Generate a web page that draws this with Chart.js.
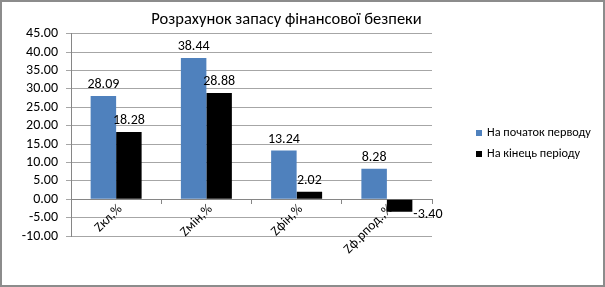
<!DOCTYPE html>
<html>
<head>
<meta charset="utf-8">
<script src="https://cdn.jsdelivr.net/npm/chart.js@4.4.0/dist/chart.umd.min.js"></script>
<style>
  html, body { margin: 0; padding: 0; background: #fff; }
  #wrap { width: 605px; height: 287px; position: relative; }
</style>
</head>
<body>
<div id="wrap"><canvas id="chart"></canvas></div>
<script>
const categories = ["Zкл,%", "Zмін,%", "Zфін,%", "Zф.рпод.,%"];
const seriesNames = ["На початок перводу", "На кінець періоду"];
const startValues = [28.09, 38.44, 13.24, 8.28];
const endValues = [18.28, 28.88, 2.02, -3.40];
const yMin = -10;
const yMax = 45;
const yStep = 5;

const FONT = "Carlito, Lato, sans-serif";
const gridGray = "#a6a6a6";
const axisGray = "#868686";

// frame round the whole chart
const framePlugin = {
  id: "frame",
  afterDraw(chart) {
    const ctx = chart.ctx;
    ctx.save();
    ctx.strokeStyle = "#8c8c8c";
    ctx.lineWidth = 2;
    ctx.strokeRect(1, 1, chart.width - 2, chart.height - 2);
    ctx.restore();
  }
};

// value labels over the bars
const valueLabels = {
  id: "valueLabels",
  afterDatasetsDraw(chart) {
    const ctx = chart.ctx;
    ctx.save();
    ctx.font = "14px " + FONT;
    ctx.fillStyle = "#000";
    chart.data.datasets.forEach((ds, i) => {
      chart.getDatasetMeta(i).data.forEach((bar, j) => {
        const v = ds.data[j];
        const txt = v.toFixed(2);
        if (v >= 0) {
          ctx.textAlign = "center";
          ctx.textBaseline = "alphabetic";
          ctx.fillText(txt, bar.x, bar.y - 8);
        } else {
          ctx.textAlign = "left";
          ctx.textBaseline = "middle";
          ctx.fillText(txt, bar.x + bar.width / 2 + 1, bar.y + 3);
        }
      });
    });
    ctx.restore();
  }
};

// legend at the right, drawn from the datasets
const sideLegend = {
  id: "sideLegend",
  afterDraw(chart) {
    const ctx = chart.ctx;
    ctx.save();
    ctx.font = "12.3px " + FONT;
    ctx.textAlign = "left";
    ctx.textBaseline = "middle";
    chart.data.datasets.forEach((ds, i) => {
      const y = 133 + i * 21;
      ctx.fillStyle = ds.backgroundColor;
      ctx.fillRect(476, y - 3, 6, 6);
      ctx.fillStyle = "#000";
      ctx.fillText(ds.label, 487, y);
    });
    ctx.restore();
  }
};

new Chart(document.getElementById("chart"), {
  type: "bar",
  data: {
    labels: categories,
    datasets: [
      { label: seriesNames[0], data: startValues, backgroundColor: "#4f81bd" },
      { label: seriesNames[1], data: endValues, backgroundColor: "#000000" }
    ]
  },
  options: {
    responsive: true,
    maintainAspectRatio: false,
    animation: false,
    categoryPercentage: 0.565,
    barPercentage: 1,
    layout: { padding: { left: 0, right: 32, top: 0, bottom: 51 } },
    plugins: {
      legend: { display: false },
      tooltip: { enabled: false },
      title: {
        display: true,
        text: "Розрахунок запасу фінансової безпеки",
        color: "#000",
        font: { family: FONT, size: 16.5, weight: "normal" },
        padding: { top: 10, bottom: 4 }
      }
    },
    scales: {
      x: {
        position: { y: 0 },
        grid: {
          display: true,
          drawOnChartArea: false,
          drawTicks: true,
          tickLength: 4,
          color: axisGray
        },
        border: { display: true, color: axisGray },
        ticks: {
          minRotation: 45,
          maxRotation: 45,
          padding: -2,
          labelOffset: 4,
          color: "#000",
          font: { family: FONT, size: 13.5 }
        }
      },
      y: {
        min: yMin,
        max: yMax,
        afterFit: (s) => { s.width = 71; },
        ticks: {
          stepSize: yStep,
          autoSkip: false,
          padding: 8,
          color: "#000",
          font: { family: FONT, size: 14 },
          callback: (v) => Number(v).toFixed(2)
        },
        grid: { color: gridGray, tickLength: 5, drawTicks: true },
        border: { color: axisGray }
      },
      // empty space between plot and legend
      gap: {
        type: "linear",
        position: "right",
        display: true,
        afterFit: (s) => { s.width = 141; },
        ticks: { display: false },
        grid: { display: false },
        border: { display: false }
      }
    }
  },
  plugins: [framePlugin, valueLabels, sideLegend]
});
</script>
</body>
</html>
